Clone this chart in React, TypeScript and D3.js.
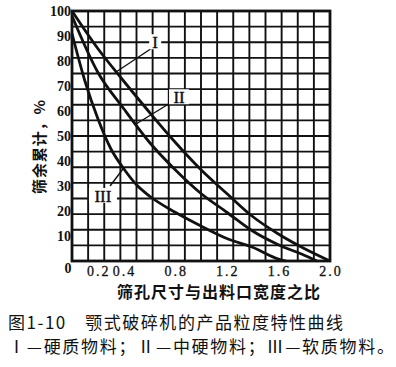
import React, { useEffect, useRef } from 'react'
import { select, scaleLinear, line, curveMonotoneX, range } from 'd3'

// 筛孔尺寸与出料口宽度之比 (x) vs 筛余累计 % (y)
const hardRatio = [0, 0.2, 0.4, 0.6, 0.8, 1.0, 1.2, 1.4, 1.6, 1.8, 2.0]
const hardValues = [100, 85, 72, 59.5, 47.5, 36.5, 27, 17.8, 10.8, 5, 0]
const mediumRatio = [0, 0.2, 0.4, 0.6, 0.8, 1.0, 1.2, 1.4, 1.6, 1.8, 1.9]
const mediumValues = [98, 75.5, 61, 47.5, 36.5, 27, 19.5, 12, 6.5, 2.3, 0]
const softRatio = [0, 0.1, 0.2, 0.3, 0.4, 0.5, 0.6, 0.8, 1.0, 1.2, 1.4, 1.6, 1.66]
const softValues = [91, 72, 57, 45, 37, 30.5, 26, 19.5, 14, 9, 5.5, 0.8, 0]

const xTicks = [0.2, 0.4, 0.8, 1.2, 1.6, 2.0]
const xTickLabels = ['0.2', '0.4', '0.8', '1.2', '1.6', '2.0']
const yTicks = [100, 90, 80, 70, 60, 50, 40, 30, 20, 10]
const gridDivisions = 16

// curve labels: text, label position, leader start, leader end (data units)
const curveLabels = ['I', 'II', 'III']
const labelAt = [[0.645, 87.5], [0.83, 65.5], [0.24, 26]]
const leaderFrom = [[0.615, 85], [0.8, 64.4], [0.295, 30]]
const leaderTo = [[0.333, 75.3], [0.49, 54.6], [0.398, 37]]

const xTitle = '筛孔尺寸与出料口宽度之比'
const yTitle = '筛余累计，%'
const caption1 = '图1-10　颚式破碎机的产品粒度特性曲线'
const caption2 = 'Ⅰ—硬质物料；Ⅱ—中硬物料；Ⅲ—软质物料。'

export default function App() {

    const chart = useRef(null)

    const width = 396
    const height = 367

    useEffect(() => {
        const svg = select(chart.current)
        svg.selectAll('*').remove()

        const x = scaleLinear().domain([0, 2]).range([72, 330])
        const y = scaleLinear().domain([0, 100]).range([261, 11])

        svg.append('rect').attr('width', width).attr('height', height).attr('fill', '#fff')

        // grid 16 x 16
        const g = svg.append('g').attr('stroke', '#111').attr('stroke-width', 1.9)
        range(gridDivisions + 1).forEach(i => {
            const xv = x(2 * i / gridDivisions)
            const yv = y(100 * i / gridDivisions)
            g.append('line').attr('x1', xv).attr('x2', xv).attr('y1', y(0)).attr('y2', y(100))
            g.append('line').attr('x1', x(0)).attr('x2', x(2)).attr('y1', yv).attr('y2', yv)
        })
        svg.append('rect')
            .attr('x', x(0)).attr('y', y(100))
            .attr('width', x(2) - x(0)).attr('height', y(0) - y(100))
            .attr('fill', 'none').attr('stroke', '#111').attr('stroke-width', 2.8)

        // curves
        const series = [
            hardRatio.map((r, i) => [r, hardValues[i]]),
            mediumRatio.map((r, i) => [r, mediumValues[i]]),
            softRatio.map((r, i) => [r, softValues[i]]),
        ]
        const getLine = line()
            .curve(curveMonotoneX)
            .x(d => x(d[0]))
            .y(d => y(d[1]))
        series.forEach(s => {
            svg.append('path')
                .datum(s)
                .attr('fill', 'none')
                .attr('stroke', '#111')
                .attr('stroke-width', 2.8)
                .attr('stroke-linejoin', 'round')
                .attr('d', getLine)
        })

        // curve labels + leaders
        curveLabels.forEach((t, i) => {
            svg.append('line')
                .attr('x1', x(leaderFrom[i][0])).attr('y1', y(leaderFrom[i][1]))
                .attr('x2', x(leaderTo[i][0])).attr('y2', y(leaderTo[i][1]))
                .attr('stroke', '#111').attr('stroke-width', 1.4)
            svg.append('rect')
                .attr('x', x(labelAt[i][0]) - 4 * t.length - 2).attr('y', y(labelAt[i][1]) - 8)
                .attr('width', 8 * t.length + 4).attr('height', 15)
                .attr('fill', '#fff')
            svg.append('text')
                .attr('x', x(labelAt[i][0])).attr('y', y(labelAt[i][1]) + 6)
                .attr('text-anchor', 'middle')
                .attr('font-family', 'Liberation Serif')
                .attr('font-size', 17)
                .attr('stroke', '#111').attr('stroke-width', 0.4)
                .attr('fill', '#111')
                .text(t)
        })

        // y tick labels
        yTicks.forEach(v => {
            svg.append('text')
                .attr('x', 71).attr('y', y(v) + 5)
                .attr('text-anchor', 'end')
                .attr('font-family', 'Liberation Serif')
                .attr('font-weight', 'bold')
                .attr('font-size', 14)
                .attr('fill', '#111')
                .text(v)
        })
        svg.append('text')
            .attr('x', 68).attr('y', 273)
            .attr('text-anchor', 'middle')
            .attr('font-family', 'Liberation Serif')
            .attr('font-weight', 'bold')
            .attr('font-size', 14)
            .attr('fill', '#111')
            .text('0')

        // x tick labels
        xTicks.forEach((v, i) => {
            svg.append('text')
                .attr('x', x(v) + 1).attr('y', 276)
                .attr('text-anchor', 'middle')
                .attr('font-family', 'Liberation Serif')
                .attr('font-size', 14)
                .attr('letter-spacing', 2)
                .attr('stroke', '#111').attr('stroke-width', 0.3)
                .attr('fill', '#111')
                .text(xTickLabels[i])
        })

        // axis titles
        svg.append('text')
            .attr('x', 117).attr('y', 298)
            .attr('textLength', 203)
            .attr('font-family', 'Noto Sans CJK SC')
            .attr('font-weight', 'bold')
            .attr('font-size', 16)
            .attr('fill', '#111')
            .text(xTitle)
        svg.append('text')
            .attr('transform', 'translate(45,194) rotate(-90)')
            .attr('textLength', 94)
            .attr('font-family', 'Noto Sans CJK SC')
            .attr('font-weight', 'bold')
            .attr('font-size', 15)
            .attr('fill', '#111')
            .text(yTitle)

        // caption
        svg.append('text')
            .attr('x', 8).attr('y', 329)
            .attr('textLength', 335)
            .attr('font-family', 'Noto Sans CJK SC')
            .attr('font-size', 17)
            .attr('fill', '#111')
            .text(caption1)
        svg.append('text')
            .attr('x', 8).attr('y', 353)
            .attr('textLength', 386)
            .attr('font-family', 'Noto Sans CJK SC')
            .attr('font-size', 17)
            .attr('fill', '#111')
            .text(caption2)
    }, [])

    return (
        <svg ref={chart} width={width} height={height}
            style={{ position: 'absolute', left: 0, top: 0 }} />
    )
}
